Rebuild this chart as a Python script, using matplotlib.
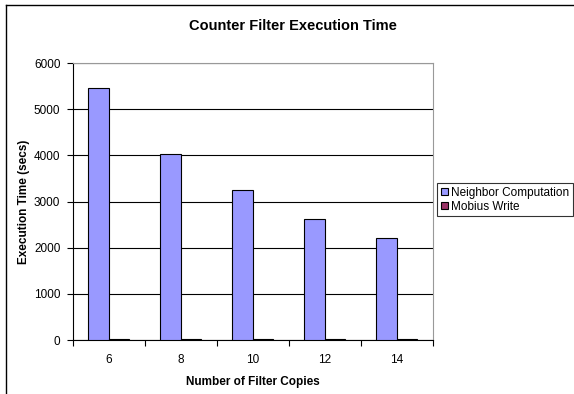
import numpy as np
import matplotlib.pyplot as plt
from matplotlib.lines import Line2D

plt.rcParams['font.family'] = ['Liberation Sans', 'DejaVu Sans']

# Daten
copies = ['6', '8', '10', '12', '14']
neighbor = [5470, 4040, 3240, 2630, 2210]
mobius = [30, 25, 25, 22, 30]

fig = plt.figure(figsize=(5.74, 3.94), dpi=100)
ax = fig.add_axes([0.127, 0.137, 0.627, 0.703])

x = np.arange(len(copies))
w = 0.286
ax.bar(x - w / 2, neighbor, w, color='#9999FF', edgecolor='black', linewidth=0.8,
       label='Neighbor Computation', zorder=3)
ax.bar(x + w / 2, mobius, w, color='#993366', edgecolor='black', linewidth=0.8,
       label='Mobius Write', zorder=3)

ax.set_xlim(-0.5, len(copies) - 0.5)
ax.set_ylim(0, 6000)
ax.set_yticks(range(0, 6001, 1000))
ax.set_xticks(x)
ax.set_xticklabels(copies)
ax.set_xticks(np.arange(-0.5, len(copies)), minor=True)
ax.tick_params(axis='x', which='major', length=0, labelsize=8.5, pad=10)
ax.tick_params(axis='x', which='minor', length=4, direction='out', width=0.8)
ax.tick_params(axis='y', length=4, direction='out', width=0.8, labelsize=8.5, pad=5)

ax.grid(axis='y', color='black', linewidth=0.8, zorder=0)
for s in ['top', 'right']:
    ax.spines[s].set_color('#999999')
for s in ['left', 'bottom']:
    ax.spines[s].set_color('black')
    ax.spines[s].set_linewidth(0.8)

ax.set_xlabel('Number of Filter Copies', fontsize=8.5, fontweight='bold', labelpad=7)
ax.set_ylabel('Execution Time (secs)', fontsize=8.5, fontweight='bold', labelpad=3)
fig.text(0.511, 0.934, 'Counter Filter Execution Time', ha='center', va='center',
         fontsize=10.5, fontweight='bold')

leg = fig.legend(loc='upper left', bbox_to_anchor=(437 / 574, 1 - 183 / 394), fontsize=8.5,
                 frameon=True, fancybox=False, edgecolor='black', borderpad=0.3,
                 handlelength=0.6, handleheight=0.6, handletextpad=0.3,
                 labelspacing=0.2, borderaxespad=0)
leg.get_frame().set_linewidth(0.8)

# Rahmen um das Diagramm
fig.add_artist(Line2D([6 / 574, 6 / 574], [0, 1 - 5 / 394], color='black', linewidth=1))
fig.add_artist(Line2D([6 / 574, 1], [1 - 5 / 394, 1 - 5 / 394], color='black', linewidth=1))

fig.savefig('out.png', dpi=100)
